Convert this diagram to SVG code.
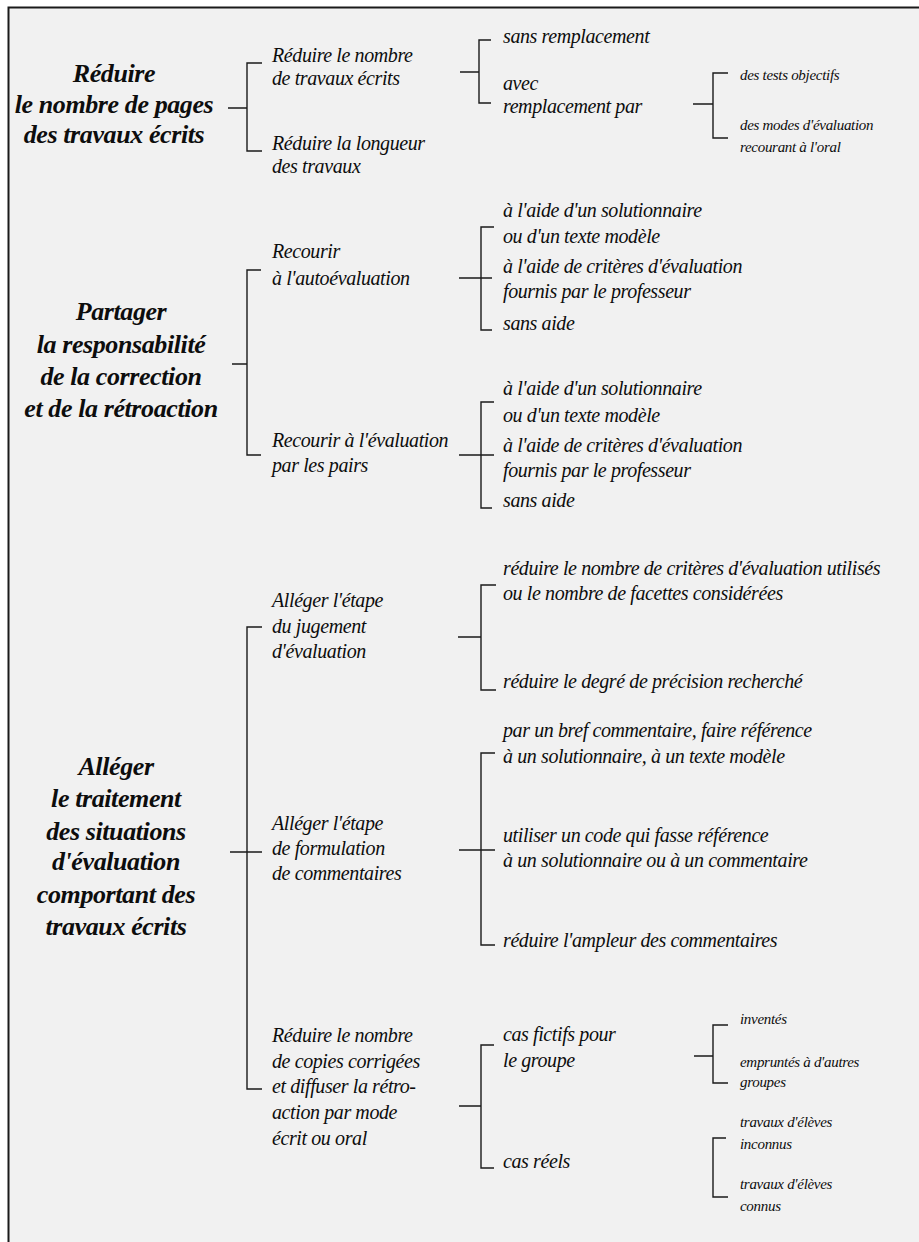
<svg xmlns="http://www.w3.org/2000/svg" width="919" height="1242" viewBox="0 0 919 1242">
<style>
text{font-family:"Liberation Serif","Times New Roman",serif;font-style:italic;fill:#0d0d0d}
.t{font-size:26px;font-weight:bold;text-anchor:middle;letter-spacing:-0.4px}
.m{font-size:20px;letter-spacing:-0.4px}
.s{font-size:15px;letter-spacing:-0.3px}
.c{fill:none;stroke:#1a1a1a;stroke-width:1.4}
</style>
<rect x="0" y="0" width="919" height="1242" fill="#ffffff"/>
<rect x="8" y="7" width="911" height="1235" fill="#f1f1f1"/>
<path d="M8.5,1242 V7.5 H919" fill="none" stroke="#1a1a1a" stroke-width="2"/>
<g id="connectors" class="c">
<path d="M228,108 H247 M262,63 H247 V151 H262"/>
<path d="M460,72 H479 M491,40 H479 V103 H491"/>
<path d="M693,104 H713 M728,73 H713 V138 H728"/>
<path d="M232,364 H247 M261,270 H247 V455 H261"/>
<path d="M459,278 H492 M494,227 H481 V330 H492"/>
<path d="M459,455 H494 M494,402 H481 V508 H492"/>
<path d="M230,852 H262 M262,627 H247 V1089 H262"/>
<path d="M458,637 H481 M496,585 H481 V690 H496"/>
<path d="M459,850 H495 M495,753 H481 V945 H495"/>
<path d="M459,1106 H481 M494,1045 H481 V1168 H494"/>
<path d="M694,1056 H713 M728,1025 H713 V1083 H728"/>
<path d="M726,1138 H713 V1197 H728"/>
</g>
<g id="n1"><text class="t" x="114" y="82">Réduire</text><text class="t" x="114" y="113">le nombre de pages</text><text class="t" x="114" y="143">des travaux écrits</text></g>
<g id="n1a"><text class="m" x="272" y="62">Réduire le nombre</text><text class="m" x="272" y="85">de travaux écrits</text></g>
<g id="n1b"><text class="m" x="272" y="150">Réduire la longueur</text><text class="m" x="272" y="173">des travaux</text></g>
<g id="n1a1"><text class="m" x="503" y="43">sans remplacement</text></g>
<g id="n1a2"><text class="m" x="503" y="90">avec</text><text class="m" x="503" y="113">remplacement par</text></g>
<g id="n1a2a"><text class="s" x="740" y="80">des tests objectifs</text></g>
<g id="n1a2b"><text class="s" x="740" y="130">des modes d'évaluation</text><text class="s" x="740" y="152">recourant à l'oral</text></g>

<g id="n2"><text class="t" x="121" y="320">Partager</text><text class="t" x="121" y="353">la responsabilité</text><text class="t" x="121" y="385">de la correction</text><text class="t" x="121" y="417">et de la rétroaction</text></g>
<g id="n2a"><text class="m" x="272" y="258">Recourir</text><text class="m" x="272" y="285">à l'autoévaluation</text></g>
<g id="n2b"><text class="m" x="272" y="447">Recourir à l'évaluation</text><text class="m" x="272" y="472">par les pairs</text></g>
<g id="n2a1"><text class="m" x="503" y="217">à l'aide d'un solutionnaire</text><text class="m" x="503" y="243">ou d'un texte modèle</text></g>
<g id="n2a2"><text class="m" x="503" y="273">à l'aide de critères d'évaluation</text><text class="m" x="503" y="298">fournis par le professeur</text></g>
<g id="n2a3"><text class="m" x="503" y="330">sans aide</text></g>
<g id="n2b1"><text class="m" x="503" y="395">à l'aide d'un solutionnaire</text><text class="m" x="503" y="422">ou d'un texte modèle</text></g>
<g id="n2b2"><text class="m" x="503" y="452">à l'aide de critères d'évaluation</text><text class="m" x="503" y="477">fournis par le professeur</text></g>
<g id="n2b3"><text class="m" x="503" y="507">sans aide</text></g>

<g id="n3"><text class="t" x="116" y="775">Alléger</text><text class="t" x="116" y="807">le traitement</text><text class="t" x="116" y="840">des situations</text><text class="t" x="116" y="870">d'évaluation</text><text class="t" x="116" y="903">comportant des</text><text class="t" x="116" y="935">travaux écrits</text></g>
<g id="n3a"><text class="m" x="272" y="607">Alléger l'étape</text><text class="m" x="272" y="633">du jugement</text><text class="m" x="272" y="658">d'évaluation</text></g>
<g id="n3b"><text class="m" x="272" y="830">Alléger l'étape</text><text class="m" x="272" y="855">de formulation</text><text class="m" x="272" y="880">de commentaires</text></g>
<g id="n3c"><text class="m" x="272" y="1042">Réduire le nombre</text><text class="m" x="272" y="1068">de copies corrigées</text><text class="m" x="272" y="1093">et diffuser la rétro-</text><text class="m" x="272" y="1119">action par mode</text><text class="m" x="272" y="1145">écrit ou oral</text></g>
<g id="n3a1"><text class="m" x="503" y="575">réduire le nombre de critères d'évaluation utilisés</text><text class="m" x="503" y="600">ou le nombre de facettes considérées</text></g>
<g id="n3a2"><text class="m" x="503" y="688">réduire le degré de précision recherché</text></g>
<g id="n3b1"><text class="m" x="503" y="737">par un bref commentaire, faire référence</text><text class="m" x="503" y="763">à un solutionnaire, à un texte modèle</text></g>
<g id="n3b2"><text class="m" x="503" y="842">utiliser un code qui fasse référence</text><text class="m" x="503" y="867">à un solutionnaire ou à un commentaire</text></g>
<g id="n3b3"><text class="m" x="503" y="947">réduire l'ampleur des commentaires</text></g>
<g id="n3c1"><text class="m" x="503" y="1041">cas fictifs pour</text><text class="m" x="503" y="1067">le groupe</text></g>
<g id="n3c2"><text class="m" x="503" y="1168">cas réels</text></g>
<g id="n3c1a"><text class="s" x="740" y="1024">inventés</text></g>
<g id="n3c1b"><text class="s" x="740" y="1067">empruntés à d'autres</text><text class="s" x="740" y="1087">groupes</text></g>
<g id="n3c2a"><text class="s" x="740" y="1127">travaux d'élèves</text><text class="s" x="740" y="1149">inconnus</text></g>
<g id="n3c2b"><text class="s" x="740" y="1189">travaux d'élèves</text><text class="s" x="740" y="1211">connus</text></g>
</svg>
